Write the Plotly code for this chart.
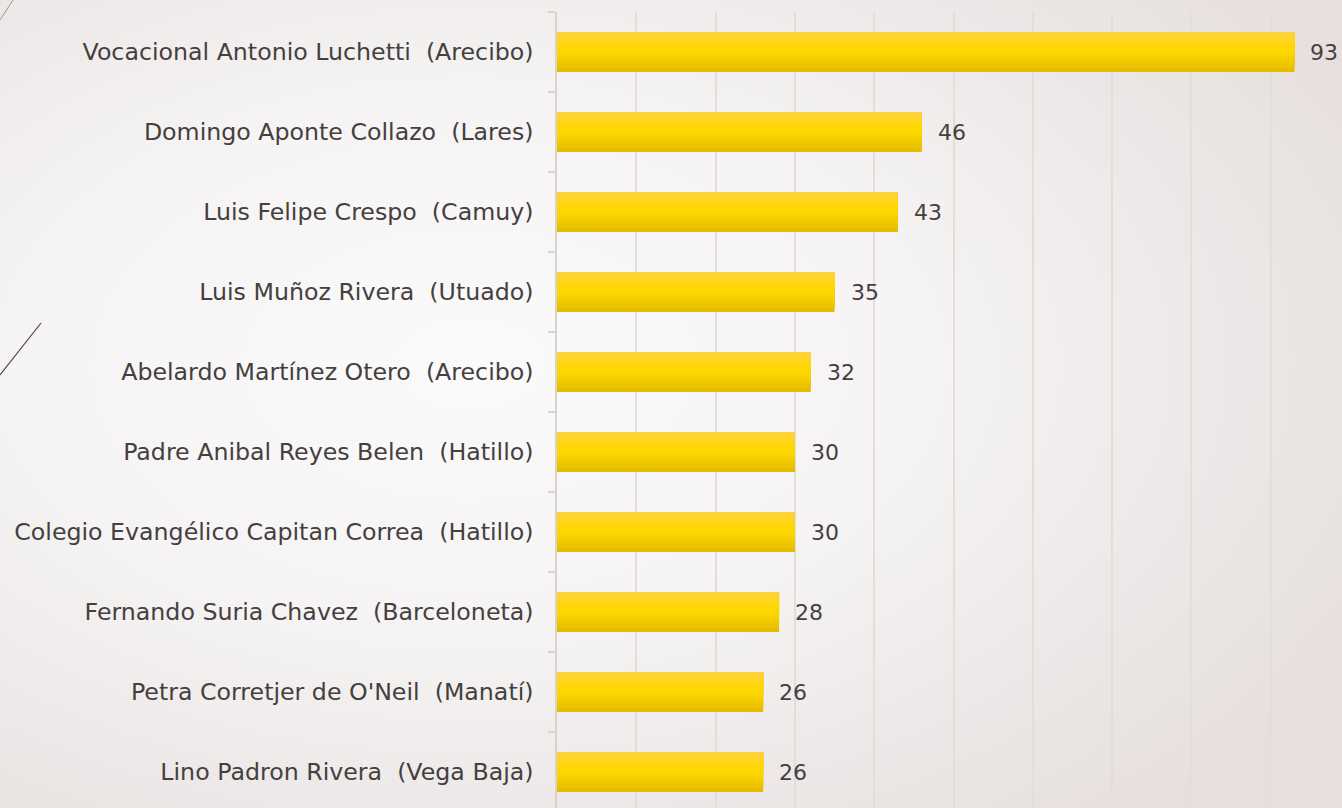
import base64
import plotly.graph_objects as go

# ---- data (top to bottom as shown) ----
schools = [
    "Vocacional Antonio Luchetti  (Arecibo)",
    "Domingo Aponte Collazo  (Lares)",
    "Luis Felipe Crespo  (Camuy)",
    "Luis Muñoz Rivera  (Utuado)",
    "Abelardo Martínez Otero  (Arecibo)",
    "Padre Anibal Reyes Belen  (Hatillo)",
    "Colegio Evangélico Capitan Correa  (Hatillo)",
    "Fernando Suria Chavez  (Barceloneta)",
    "Petra Corretjer de O'Neil  (Manatí)",
    "Lino Padron Rivera  (Vega Baja)",
]
values = [93, 46, 43, 35, 32, 30, 30, 28, 26, 26]

# keep double spaces visible in SVG text
labels = [s.replace("  ", " \u00a0") for s in schools]

W, H = 1342, 808
ML, MT = 557, 12
PW, PH = W - ML, H - MT

fig = go.Figure()

# gradient bar: layered bars, bottom (dark) to top (light)
grad = ["#e4bc00", "#ebc300", "#f1c900", "#f7cf00", "#fcd400",
        "#ffd700", "#ffd605", "#ffd515", "#fed426", "#fdd238"]
n = len(grad)
bw = 0.5
step = bw / n
for i, col in enumerate(grad):
    fig.add_trace(go.Bar(
        x=values, y=labels, orientation="h",
        width=bw - i * step, offset=-bw / 2 + i * step,
        marker=dict(color=col, line=dict(width=0)),
        hoverinfo="skip", showlegend=False,
    ))

for v, lab in zip(values, labels):
    fig.add_annotation(x=v, y=lab, text=str(v), showarrow=False,
                       xanchor="left", xshift=14,
                       font=dict(family="DejaVu Sans", size=22, color="#45403e"))

svg = f'''<svg xmlns="http://www.w3.org/2000/svg" width="{W}" height="{H}">
<defs>
<radialGradient id="g" cx="0.35" cy="0.45" r="0.75" gradientUnits="objectBoundingBox">
<stop offset="0" stop-color="#fbfafa"/>
<stop offset="0.45" stop-color="#f5f3f3"/>
<stop offset="1" stop-color="#e6dfdd"/>
</radialGradient>
</defs>
<rect width="{W}" height="{H}" fill="url(#g)"/>
<line x1="0" y1="20" x2="13" y2="0" stroke="#9a9492" stroke-width="1"/>
<line x1="0" y1="375" x2="41" y2="323" stroke="#4a4442" stroke-width="1.2"/>
</svg>'''
src = "data:image/svg+xml;base64," + base64.b64encode(svg.encode()).decode()
fig.add_layout_image(dict(
    source=src, xref="paper", yref="paper",
    x=-ML / PW, y=1 + MT / PH, sizex=W / PW, sizey=H / PH,
    xanchor="left", yanchor="top", sizing="stretch", layer="below",
))

fig.update_layout(
    width=W, height=H,
    margin=dict(l=ML, r=0, t=MT, b=0, pad=0),
    barmode="overlay",
    paper_bgcolor="#f3f1f0",
    plot_bgcolor="rgba(0,0,0,0)",
    showlegend=False,
    xaxis=dict(range=[0, PW / 7.93], dtick=10, tick0=0,
               showticklabels=False, showgrid=True,
               gridcolor="#e3dddb", gridwidth=1.5,
               zeroline=False, showline=False),
    yaxis=dict(categoryorder="array", categoryarray=labels[::-1],
               range=[9.5 - PH / 80, 9.5],
               showgrid=False, zeroline=False,
               showline=True, linecolor="#d8d2d0", linewidth=1.5,
               ticks="outside", tickson="boundaries", ticklen=7,
               tickcolor="#d8d2d0", tickwidth=1.5,
               ticklabelstandoff=17,
               tickfont=dict(family="DejaVu Sans", size=23.7, color="#45403e")),
)

fig.write_html(
    "out.html",
    config={"displayModeBar": False},
    post_script="document.body.style.margin='0';document.body.style.overflow='hidden';",
)
